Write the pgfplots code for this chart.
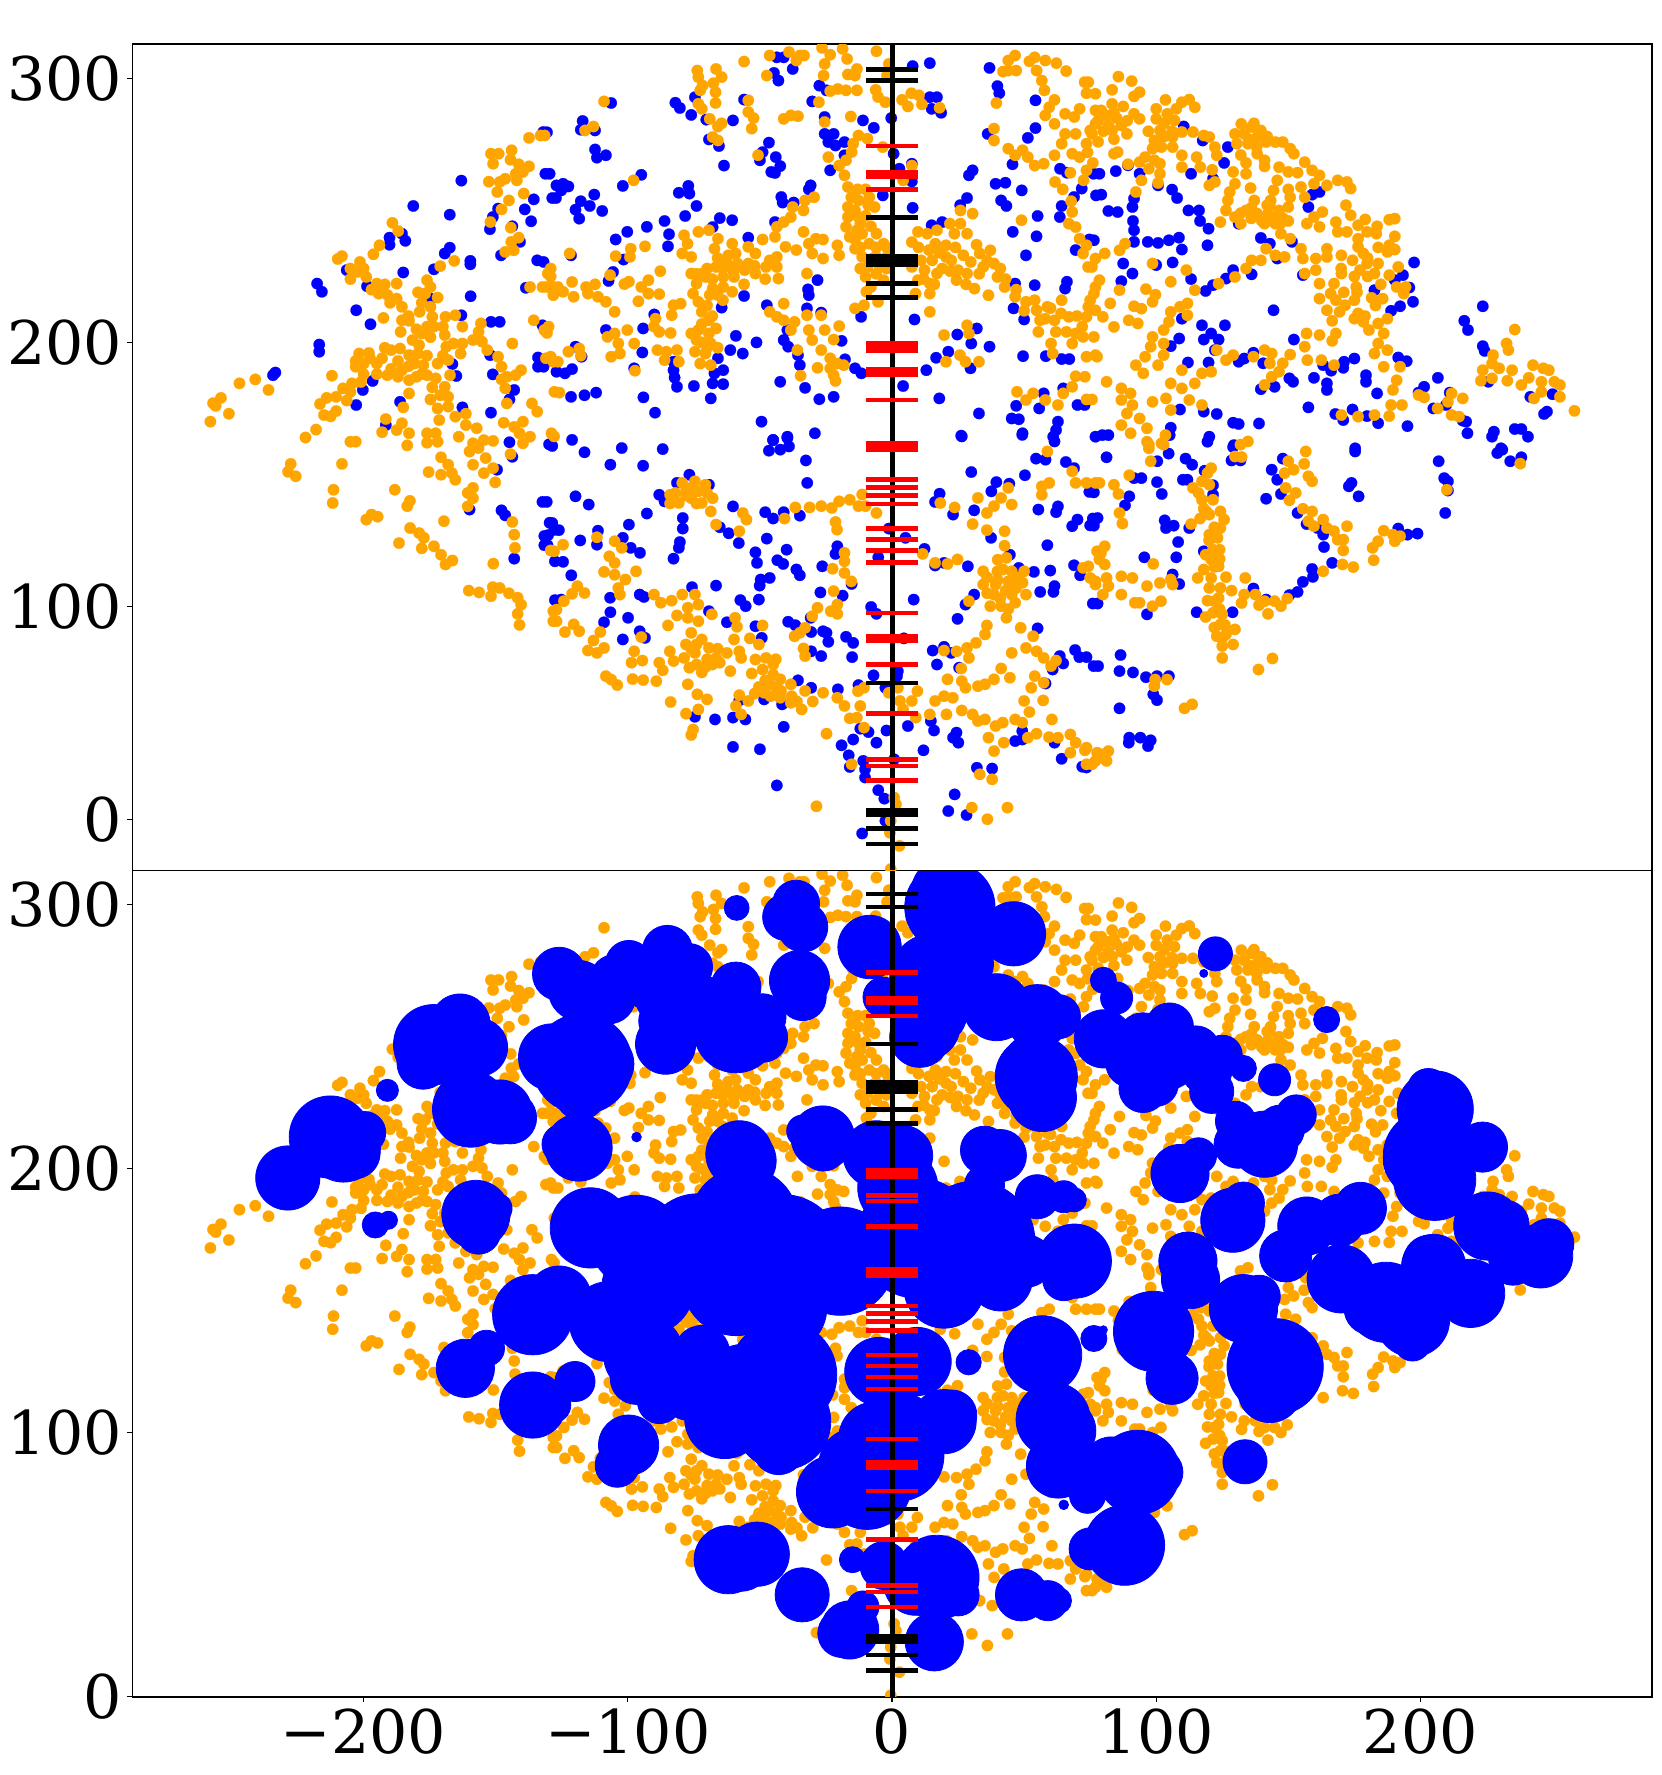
\documentclass[border=0pt]{standalone}
\usepackage{fontspec}
\setmainfont{DejaVu Serif}
\usepackage{pgfplots}
\usepackage{pgfplotstable}
\pgfplotsset{compat=1.18}
\definecolor{mplorange}{HTML}{FFA500}

% orange points, shared by both panels
\pgfplotstableread[row sep=\\]{
x y\\
-258 170\\ -257 177\\ -254 179\\ -256 176\\ -251 173\\ -247 184.5\\ -241 186\\ -236 182\\ -222 164\\ -218 167\\ -216.5 176.7\\ -214 179\\ -210.4 179.4\\ -215 172.5\\ -212.5 172\\ -210.4 174\\ -206.4 178\\ -207.8 182.6\\ -204.4 184.5\\ -205 181.3\\ -201 185\\ -212 187.4\\ -205 162.4\\ -203 162.4\\
-203 193\\ -201.7 195.8\\ -203 190.8\\ -200 192\\ -197.6 194\\ -195 192\\ -193 194\\ -189.6 190\\ -191 187.6\\ -187 187\\ -185.5 189.5\\ -182.8 185.7\\ -182.8 180.7\\ -189.6 197.1\\ -186.2 197.7\\ -182.8 195.2\\ -179.4 195.8\\ -180.8 192\\ -177.4 191.4\\ -176 187.6\\ -180 187\\ -172.7 186.4\\ -169.3 183.2\\ -168 179.4\\
-181.5 200.9\\ -178 203.4\\ -174.7 202\\ -173.4 206\\ -174 209.7\\ -174.7 213.5\\ -169.3 202.8\\ -168.7 198.4\\ -166 199.6\\ -162.6 199.6\\ -163.3 195.8\\ -168 193.3\\ -169 209.7\\ -165.3 210.3\\ -162.6 206\\ -185.5 213.5\\ -187.5 216.6\\ -185.5 208.4\\ -182.8 208.2\\ -178.8 211.6\\ -192.5 209.3\\
-194.3 218.5\\ -191 218\\ -195 222.3\\ -187.5 222.3\\ -199 224.8\\ -202.4 226.7\\ -205 228\\ -208.2 232.7\\ -209.8 231.6\\ -201.4 230.5\\ -179.4 219\\ -176.7 218.5\\ -176 223.6\\ -174.7 221\\ -194 236.8\\ -196.3 233.4\\ -189.1 245.3\\ -186.9 242.2\\ -165.7 230.9\\ -171 228.9\\
-191.6 171\\ -185.5 169.4\\ -182.8 165.6\\ -193 166\\ -187.5 166.8\\ -183.5 161\\ -174.7 178.4\\ -172 175\\ -171.4 170.6\\ -172.7 165.6\\ -176 165.6\\ -176 162\\ -172 162.4\\ -168 175.7\\ -165.3 171.9\\ -161.3 173\\ -161.3 168.7\\ -157.2 167.5\\ -164 164.3\\ -158.6 161.8\\ -154.5 163\\ -151 162.7\\ -185 175.4\\ -167.3 187.6\\
-155.6 207.2\\ -156.5 204\\ -158.6 200.9\\ -155.2 200.3\\ -153.2 197.1\\ -149.1 194.6\\ -147.8 190.8\\ -145.8 187\\ -147.8 186\\ -146.4 182.6\\ -142.5 187.6\\ -140.4 189.5\\ -143.7 199.6\\ -145.8 176.9\\ -136.3 176.9\\ -134.3 173.8\\ -147 169.6\\ -143 168\\ -139.7 170\\ -141 165.6\\ -137 164.3\\ -139.7 161.8\\ -128.9 165.6\\ -135.6 208.4\\ -131.6 204.7\\ -131 194\\ -128.2 192.7\\ -127.8 181.3\\ -130.3 226.1\\ -137 221\\ -132.3 221\\ -128.2 221\\ -128.2 217.9\\
-137.4 277.5\\ -133 278.4\\ -151.8 271.5\\ -148.9 271.5\\ -151 267.7\\ -144 272.8\\ -144.4 269.2\\ -141.3 267.5\\ -137.4 266.7\\ -142.4 263.9\\ -139.7 264.6\\ -142 261.4\\ -152.6 260.9\\ -148.5 260.8\\ -146.4 262\\ -149.4 257\\ -139.4 256.4\\ -145 253.8\\ -147.8 250.4\\ -152 245.6\\ -144.3 243.5\\ -141.3 239.7\\ -144.1 238.1\\ -143.2 234.9\\ -146.4 234.3\\
-227.6 154\\ -228.6 151\\ -225.7 149.3\\ -208.2 154\\ -211.4 144.2\\ -211.7 139.2\\ -188.2 144.2\\ -183.5 138\\ -182.5 140\\ -199 132.9\\ -197 134.8\\ -194.7 134\\ -169.6 132.3\\ -182.4 129.7\\ -179 127.8\\ -177.2 126\\ -186.6 124\\ -178 122\\ -173.4 122.8\\ -170.7 119.6\\ -166.4 117.4\\ -169 115.9\\ -150.9 116.2\\ -160.2 106\\ -156.3 105.3\\ -151.1 107.3\\ -148.5 107\\ -151.8 103.9\\ -145 105\\ -141.7 103.3\\ -140.4 100.7\\ -141.7 97.2\\ -141 93\\
-175.4 150.9\\ -170.7 149.9\\ -166.6 150.5\\ -165.3 148\\ -170.7 156.5\\ -168 153.7\\ -158.6 144.9\\ -160.6 143\\ -158.6 141\\ -160.6 137.9\\ -159.9 158.7\\ -156.5 160\\ -158.6 153.7\\ -153.8 156.2\\ -151 152.4\\ -154.5 150.5\\ -150.2 147\\ -143.7 132\\ -143 127.2\\ -142.7 122.2\\ -128.2 98.2\\ -128.2 94.4\\ -129.2 121.2\\ -144.4 157.7\\
-56 306.4\\ -46.3 308.7\\ -39 310\\ -34.9 308.7\\ -36.2 306.8\\ -33.3 308.7\\ -26.5 311.6\\ -23.4 309\\ -18.7 311.2\\ -17 307.4\\ -25.5 305.5\\ -25.9 301.1\\ -13.3 303.6\\ -14 301.1\\ -16.7 301.5\\ -5.9 310.3\\ -1.2 305.5\\ -1.9 301.1\\ -47.4 301.1\\ -73.7 303\\ -73.3 300.5\\ -66.6 303.6\\ -64.5 300.5\\ -71.7 297.3\\ -67.6 298.2\\ -72.6 295.5\\ -66.8 294.8\\
-109 291.3\\ -73.3 290.4\\ -72 288.5\\ -66.8 290.7\\ -69 284.7\\ -64.5 283\\ -65.9 281.8\\ -67.9 277.8\\ -65.9 276.5\\ -54.4 291.7\\ -54.4 287.3\\ -52.4 285\\ -53.1 281\\ -41 284.7\\ -38.3 286\\ -35.6 285.7\\ -27.7 291\\ -20.5 296\\ -23.4 295.2\\ -17.4 295.5\\ -13.3 295.5\\ -6.2 295.7\\ -5.3 293\\ -2.5 291\\ 3.8 291.9\\ 6 289.4\\ 7.3 294.4\\ 10.2 293.6\\ 11.3 290.2\\ 18 288.9\\
-15.6 285.6\\ -25.5 283.5\\ -12.7 278.4\\ -9.3 277.2\\ -14.7 275.3\\ -15.3 272.1\\ -3.5 274\\ -17.4 269\\ -20 267\\ -24.1 270.2\\ -18 263.3\\ 7.5 267\\ 4.2 261.4\\ -50.7 270.9\\ -97.8 261.4\\ -113 281.8\\ -116.2 280.3\\ -131.5 278.4\\
-16.7 258.9\\ -15.4 255\\ -12.7 253.8\\ -16.7 251.3\\ -8.6 255\\ -6.6 251.3\\ -16.7 247.5\\ -12.7 247.5\\ -17.4 243.8\\ -13.3 242.5\\ -16 240\\ -11.3 241.2\\ -5.9 241.2\\ -8.6 237.4\\ -3.2 237.4\\ -14 235.5\\ -11.3 232.4\\ -5.9 232.4\\ -1.9 232.4\\ -9.3 228.6\\ -4.6 228.6\\ -10 224.8\\ -3.2 223.6\\ -9.7 219.2\\ -5.3 215.4\\ -14 212.9\\ -10.6 214.1\\
9.8 241.9\\ 13.3 241.2\\ 17 242.5\\ 16.4 237.4\\ 20.4 236.8\\ 7.5 238\\ 11 231.1\\ 15.2 231.1\\ 20.4 232.4\\ 12.3 227.4\\ 17 226.1\\ 9.8 223.6\\ 14.3 222.3\\ 7.5 228.6\\ 22.4 231.1\\ 25 227.4\\ 24.4 223.6\\ 29.8 230.5\\ 28.4 226.1\\ 33.2 233.7\\ 37.2 234.9\\ 34.5 228.6\\ 38.6 229.9\\ 31.2 220.4\\ 36.5 217.9\\ 8.9 218.5\\ 14.3 218.5\\ 14.3 211.6\\
21.9 245\\ 25.9 250\\ 30.5 248.8\\ 25.9 245\\ 28.4 241.2\\ 23.6 241.2\\ 39.9 224.8\\ 42.6 221\\ 46.6 217.3\\ 50.7 215.4\\ 54.7 212.2\\ 58.8 213.5\\ 56 208.4\\ 61.5 208.4\\ 55.4 204\\ 60.2 199.6\\ 60.8 195.8\\ 64.2 216\\ 66.9 209.7\\ 69.5 203.4\\ 68.2 199.6\\ 72.3 202.1\\ 73.6 209.7\\ 75 216\\ 77 221\\ 73.6 194.6\\ 77.6 194.6\\ 74.2 228.6\\
-78.7 240.6\\ -79.4 233.7\\ -76 232.4\\ -77.4 237.4\\ -73.3 241.9\\ -69.3 242.5\\ -65.9 239.3\\ -60.5 237.4\\ -67.2 235.5\\ -54.4 236.2\\ -59.2 233.7\\ -49 239\\ -51.7 233.7\\ -46.3 231.1\\ -76 226.1\\ -74 222.3\\ -70.6 224.8\\ -66.6 228.6\\ -62.5 229.9\\ -58.5 229.9\\ -54.4 229.9\\ -63.9 224.8\\ -59.8 224.8\\ -55.8 227.4\\ -51.7 226.1\\ -47.7 228.6\\ -43.6 228.6\\ -43 224.2\\ -67.9 220.4\\ -63.9 221\\ -60.5 219.2\\ -75.3 218.5\\ -73.3 215.4\\ -72 211.6\\ -69.3 208.4\\ -66.6 205.3\\ -69.3 203.4\\ -73.3 204.7\\ -68.6 199.6\\ -74.6 196.5\\ -70.6 195.8\\ -72.6 192\\ -68.6 191.4\\ -76 203.4\\ -74 200.9\\
-43.6 243.8\\ -44.3 240\\ -41 245.6\\ -38.3 247.5\\ -37.6 251.3\\ -32.9 253.8\\ -29.5 255\\ -33.5 250\\ -40.3 236.2\\ -36.2 235\\ -43.6 232.4\\ -33.5 241.9\\ -31.5 237.4\\ -26.1 239\\ -28.8 239.3\\ -30.2 233.7\\ -26.1 231.8\\ -32.2 226.1\\ -20.7 236.8\\ -20 233\\
-87.7 227\\ -93.5 236.4\\ -98.9 235.5\\ -99.2 232.4\\ -104.6 232.7\\ -122 233.7\\ -129.2 228\\ -129.2 225\\ -106.7 225.5\\ -101.3 222.1\\ -99.6 223\\ -92.2 223.6\\ -94.9 221\\ -92.2 218.5\\ -88.1 218.3\\ -96 215.6\\ -126.5 221\\ -130.6 221\\ -124.5 219.2\\ -121.1 222.9\\ -120.5 217.3\\ -115.8 221\\ -112.4 222\\ -115.1 218.5\\ -111.3 217.3\\ -108.3 215.4\\ -105 211.6\\ -80 214.7\\ -82.7 214.1\\ -83.4 210.3\\ -89.5 209\\ -90.1 206\\ -88.1 204\\ -83.8 203.6\\
-105 203.4\\ -107.7 202.1\\ -103.6 199.6\\ -100.2 204.7\\ -97.6 199.6\\ -106.3 194.6\\ -103 195.8\\ -130 206\\ -130.6 203.6\\ -129.2 194.6\\ -126.5 192.7\\ -122.5 196.5\\ -118.4 197.7\\ -117.8 195\\ -88.8 197.1\\ -85.4 196.5\\ -81.4 197.1\\ -86.1 193.3\\ -80.7 192.7\\ -97.3 189.3\\
-46.3 211.6\\ -41 214.7\\ -43.6 209.7\\ -41 208.4\\ -36.9 207.8\\ -38.3 204.7\\ -32.2 210.3\\ -31.5 204.7\\ -30.2 200.9\\ -26.8 197.1\\ -23.4 194\\ -20.7 192\\ -18.3 191.4\\ -23.4 190.2\\ -28.2 190.4\\ -22.1 187.6\\ -21.4 185.4\\ -34.6 187.4\\ -35.8 197.1\\ -26.8 210.3\\ -25.5 204.7\\ -20 206.2\\ -22.1 201.1\\
19.7 202.8\\ 28.4 206.5\\ 29.1 203.4\\ 20.4 192.7\\ 25.7 195.2\\ 27.8 192.7\\ 32.9 192.7\\ 38.6 281\\ 38.6 276.5\\ 39.5 290.7\\ 44 303\\ 42 302.6\\ 47 303\\ 44 306.8\\ 46.6 308.7\\ 52 306.5\\ 54 308\\ 58 306.8\\ 62.2 305.8\\ 65.9 302.8\\ 54.7 303\\ 56.7 299.2\\ 57.7 295.5\\ 72.9 298.6\\ 73.6 294.4\\
61.5 291.9\\ 59.5 289.1\\ 58 286\\ 61.5 282.8\\ 65.5 286.6\\ 71 288.5\\ 77 287.9\\ 69 285.4\\ 65.5 279\\ 69.5 279\\ 75 280.3\\ 64.2 275.3\\ 73.6 275.3\\ 71 270.2\\ 61.5 270.9\\ 68.2 271.5\\ 73.6 265.2\\ 57.4 267.7\\ 54 267\\ 49.4 272.8\\ 44 273.4\\ 46.6 270.9\\ 51.4 270.2\\ 67.5 264.3\\ 72.5 261.4\\ 61.7 260.8\\ 64.6 258\\ 67.8 253.5\\ 68.2 249.4\\ 66.9 245\\ 69.5 243.7\\ 49 246.3\\ 71 239.3\\ 73.6 236.8\\ 72.3 233.7\\ 77 231.8\\
47.3 181.3\\ 50.7 178.2\\ 53.4 180.7\\ 58 178.2\\ 62.8 176.3\\ 64.8 180.7\\ 68.2 183.2\\ 69.5 187.2\\ 73.6 178.4\\ -125.9 181\\
-127.9 164.4\\ -84 142.3\\ -79.4 146.8\\ -74.6 147.4\\ -70.6 146.1\\ -80.7 139.2\\ -76 141\\ -72 139.2\\ -67.9 141\\ -68.6 136\\ -66.6 131\\ -84 139\\ -78 143.6\\ -73.3 143.6\\ -56.5 135.4\\ -55.1 132.9\\ -57.8 128.5\\
-36.6 137.5\\ -31.2 137.5\\ -26.8 138\\ -22.8 137.3\\ -20 139.8\\ -16 140.4\\ -11.3 142.4\\ -12.7 138\\ -10 138\\ -5.9 135.4\\ -40.7 133.3\\ -21.4 132\\ -20.8 129.1\\ -18 120.3\\ -18 117.1\\ -22.5 114.3\\ -18 112.7\\ -15.4 109.5\\ -111.7 126.2\\ -105 124.7\\ -102.3 122.2\\ -124.5 123.4\\ -127.9 120.9\\
-107 119\\ -105 116.5\\ -109 113.1\\ -105 112\\ -96.9 113.3\\ -100.9 110.2\\ -103.6 107\\ -103 104.5\\ -119.1 107.7\\ -121.1 104.8\\ -116.4 105.1\\ -124.2 102\\ -127 98.8\\ -127 94.4\\ -123.8 90.3\\ -120.5 93.2\\ -118.4 90.6\\
-90.1 104.5\\ -87.5 101.4\\ -83.4 102.2\\ -79.4 104.5\\ -74.6 104.5\\ -77.3 99.5\\ -73.3 100.7\\ -81.4 96.6\\ -77.3 95.7\\ -73.3 94.4\\ -68.2 97\\ -59.4 95.7\\ -58.7 92.3\\ -84.8 92.8\\ -49 92.8\\ -76 90\\ -74 85.6\\ -78 85.6\\ -72 87.5\\ -84.1 83\\ -74.6 82.4\\ -69.3 84.3\\ -78.7 80.5\\ -82.7 79.3\\ -88.1 78.7\\ -86.8 75.8\\ -76.7 76.8\\ -70.6 77\\ -66.6 80.5\\ -62.5 82.4\\ -65.2 78.7\\ -61.2 75.5\\
-110.4 90.3\\ -113 87.1\\ -109 84.3\\ -115.1 83.3\\ -111.7 82.4\\ -94.9 88.4\\ -97.6 83\\ -94.5 79.5\\ -98.6 78.7\\ -108.3 73.6\\ -106.3 72.3\\ -104 70.2\\ -98.2 72.5\\ -94.2 72.1\\ -89.2 71.7\\ -59.8 87.5\\ -57.8 83\\ -57.1 80.5\\ -53.8 87.9\\ -50.4 85.6\\ -51.7 79.9\\ -53.1 74.6\\
-47.7 80.5\\ -45 78\\ -49 76.1\\ -45 74.2\\ -46.3 70.5\\ -50.4 69.5\\ -43.6 69.2\\ -42.3 72.4\\ -48.4 67.3\\ -42.3 65.4\\ -38.3 70.5\\ -32.9 68\\ -38.3 63.5\\ -34.2 61\\ -26.1 67.3\\ -20.7 65.4\\ -18 62.3\\
-77.3 70.5\\ -73.7 66.7\\ -83.8 63.8\\ -70 64.8\\ -73.3 61\\ -78 59.4\\ -75.3 53.4\\ -76 51.3\\ -57.8 66.4\\ -54.4 64.2\\ -59.1 62.3\\ -57.1 59.1\\ -24.8 51.8\\ -12.9 67.9\\ -10.6 69.2\\ -12 62.3\\ -13.3 57.9\\ -16 57.6\\ -10.6 54.1\\ -15.3 40.2\\
-1.2 67.3\\ 2.2 69.2\\ 9.6 67.9\\ 3 64.2\\ 7.5 64.2\\ 4.2 61\\ 9 57.9\\ 14.3 59.1\\ 16.3 64.2\\ 19.7 66\\ 21 72.4\\ 23 65.4\\ 20.6 59.1\\ 26.4 60.6\\ 30.5 59.1\\ 35.2 57.2\\ 32.5 56.6\\ 26.4 71.7\\ 27.8 69.2\\ 26.2 76.5\\ 19.7 83.3\\ 24.4 83\\ 28.4 84.3\\ 29.1 80.5\\ 31.8 86.2\\ 35.2 89.4\\ 35.9 92.8\\
43.3 95.7\\ 48.7 91.9\\ 53.4 88.7\\ 50.7 84.3\\ 54.7 83\\ 57.4 80.5\\ 60.2 77.4\\ 62.1 79.5\\ 45.3 82.4\\ 41.3 76.5\\ 44.6 73\\ 38.6 72.4\\ 35.2 70.5\\ 32.5 69.8\\ 54 73.6\\ 52.7 69.2\\ 57.4 71.1\\ 50 64.2\\ 57.2 64.4\\ 52 60\\ 60.5 57.2\\ 46.6 57.2\\ 49.3 56\\ 41.9 56\\ 39.2 54.7\\ 36.5 50.3\\ 42.3 48.4\\ 38.6 45.2\\ 51.4 50.3\\ 54.7 51.8\\ 59.4 50.5\\ 62.8 50.3\\ 67.5 51.5\\ 69.5 48.4\\ 73 45.5\\ 67.5 44.6\\ 77.6 44.6\\ 73.6 40.2\\ 77 41.5\\
33.2 36.4\\ 37.9 34.5\\ 30.2 23.8\\ 36.1 19.4\\ 43.7 23.8\\ -28.6 24.3\\ 0.8 27.6\\ 1.5 25\\ -0.5 18.8\\ -0.8 14.3\\ 2.8 9.3\\ -0.5 0.5\\ 29.1 102\\ 32.5 141.1\\ 35.9 135.4\\ 30.5 131.2\\ 35.9 128.9\\ 42.6 128.5\\ 42.6 123\\ 38.6 138\\ 41.3 141.1\\ 44 144.9\\ 45.3 138.6\\ 18.3 139.2\\ 23.7 137.5\\ 59.5 146.8\\ 56.7 145.5\\ 56.7 142.3\\ 69.5 146.8\\ 77 146.8\\ 68.2 151.2\\ 58.8 158.7\\
11.6 119.9\\ 16.3 116.5\\ 21 116.1\\ 24.8 117.8\\ 34.5 113.3\\ 39.9 113.3\\ 45.3 113.3\\ 50 113.3\\ 34.5 108.3\\ 39.2 108.3\\ 44 109.5\\ 49.4 109\\ 50.7 104.5\\ 45.3 104.5\\ 38.6 104.5\\ 37.2 100.1\\ 41.3 100.1\\ 46.6 101.4\\ 40 117.7\\ 43.3 118.4\\ -22.1 105.8\\ -20.7 100.7\\ -23.2 98.2\\ -20.7 97.2\\ -28.2 99.5\\ -30.2 96.3\\ -32.9 91.9\\ -34.9 90\\ -36.9 88.7\\ -33.5 84.1\\ -32.9 81.2\\ 72.3 114.6\\ 75 110.8\\ 77.6 120.9\\ 77 108.3\\
85.7 300.7\\ 90.7 299\\ 74.3 298.6\\ 77 294.2\\ 83.3 295.7\\ 93.7 294.8\\ 91.6 293.2\\ 79.2 287.9\\ 83.3 290.4\\ 87.5 289.4\\ 81.2 286\\ 91.6 286.6\\ 93.7 284.7\\ 77 282.8\\ 81.9 282.2\\ 86.8 282.2\\ 75.7 279\\ 83.3 280.3\\ 88.9 279\\
103.5 291.9\\ 100 288.5\\ 109.7 291\\ 112.5 292\\ 114.6 289.1\\ 107.6 288.5\\ 104.2 286.6\\ 100 284.7\\ 106.9 284.1\\ 101.4 280.3\\ 106.2 277.8\\ 109.7 279.7\\ 113.9 279.7\\ 118 278.4\\ 120.1 277.8\\ 99.3 276.5\\ 102 274\\ 98.6 273.4\\ 106.2 274\\ 95.8 270.2\\ 99.3 269\\ 93.7 268.3\\ 97.2 265.8\\ 101.4 267.7\\ 85.4 272.1\\ 84 271.5\\ 89.3 267.5\\
109.7 270.9\\ 109.7 266.4\\ 115.3 270.2\\ 116.7 266.4\\ 101.4 263.9\\ 100.7 260.4\\ 94.4 261.4\\ 92.3 257\\ 122.2 274\\ 122.9 270.9\\ 121.2 265.4\\ 120.1 259.5\\ 122.2 260.8\\
132.2 282.8\\ 136.1 281.6\\ 139.6 280.3\\ 129.8 279\\ 133.3 279\\ 138.2 277.8\\ 130.5 275.3\\ 134.7 275.3\\ 141.6 275.9\\ 145.1 275.9\\ 147.9 275.9\\ 150.7 273.4\\ 152.1 271.5\\ 138.2 271.5\\ 134 268\\ 141 269\\ 141 266.7\\ 146.5 266.4\\ 150 264.6\\ 153.5 264.3\\ 156.2 268.3\\ 159 265.2\\ 129.1 264.6\\ 134 263.9\\ 145.8 261.4\\ 144.4 257.6\\ 143.3 253.8\\ 135.7 258.5\\ 137.1 253.8\\
129.8 260.1\\ 127.8 257\\ 127.1 253.8\\ 126.4 250\\ 124.3 245.6\\ 129.8 247.5\\ 134 250\\ 138.2 248.8\\ 142.3 248.8\\ 141 245\\ 146.5 250\\ 145.1 245\\ 150 251.3\\ 150.7 255\\ 154.8 258.9\\ 156.2 255\\ 147.2 241.2\\ 150.7 239.3\\ 161.8 263.3\\ 159.7 260.1\\ 164.6 259.5\\ 168.7 261.4\\ 172.2 260.8\\ 173.6 258.3\\ 171.8 252\\ 162.9 249.4\\ 159.7 247.5\\ 157 245\\ 161.8 243.8\\
173.6 248.2\\ 179.1 246.6\\ 168 245.6\\ 168.7 241.9\\ 172.2 241.9\\ 176.4 244.4\\ 188.2 246.5\\ 190.3 246.9\\ 183.6 244\\ 190.3 240.2\\ 188.2 236.8\\ 190.3 235.2\\ 187.5 234.3\\ 179.8 241.9\\ 176.4 239.3\\ 183.3 241.2\\ 176.4 236.2\\ 178.4 233.7\\
154.8 235.5\\ 155.5 231.8\\ 160.4 231.8\\ 164.6 235.5\\ 164.6 232.4\\ 156.2 226.1\\ 160.4 227.4\\ 161.8 222.3\\ 170.1 233\\ 174.3 231.1\\ 179.8 229.9\\ 184 229.9\\ 177.1 227.4\\ 182.6 226.1\\ 188.2 225.5\\ 191.6 228.6\\ 167.3 222.3\\ 170.1 226.1\\ 166 218.5\\ 161.8 216.6\\ 164.6 212.2\\ 169.4 211.6\\ 166.6 208.2\\ 171.5 214.1\\ 175.7 221\\ 175 216\\ 176.4 211\\ 178.4 207.8\\ 180.5 204.7\\ 184 207.2\\ 187.5 209\\ 181.5 216.9\\ 185.7 216.6\\ 191 221\\ 194.4 221\\ 193.7 218.5\\ 186.1 203.4\\ 184 199.6\\ 182.6 195.8\\ 187.5 197.1\\
156.9 203.4\\ 156.2 198.4\\ 161.8 202.8\\ 168 203.4\\ 166.6 200.6\\ 122.9 197.1\\ 126.4 193.3\\ 129.1 195.2\\ 136.8 194.6\\ 141 197.1\\ 143.7 195.8\\ 143 192.1\\ 150.7 195.4\\ 147.9 192.1\\ 146.5 188.9\\ 143.7 187\\ 141 183.9\\ 157.2 193.3\\ 162.5 193.3\\ 167.3 191.4\\ 186.1 190.8\\ 192.3 190.8\\ 191 185.7\\ 189.6 182\\ 188.9 176.3\\ 193 176.3\\ 182.6 172.5\\ 188.2 172.1\\ 170.1 172.5\\ 176.4 171.9\\ 199.3 180.1\\ 201.4 179.2\\ 211.8 180.7\\ 210.4 177.5\\ 216 178.8\\ 206.5 175\\ 211.8 172.5\\ 214.6 171.9\\
235.7 204.9\\ 232.6 199.6\\ 233.3 197.1\\ 227.5 195.2\\ 227.1 192\\ 223.6 189.5\\ 229.8 190.2\\ 227.1 186.4\\ 222.9 185.5\\ 234.7 189.5\\ 232.9 185.5\\ 242.6 191.4\\ 246.5 190.2\\ 248.6 189.5\\ 241 186.6\\ 238.2 183.9\\ 245.8 185.1\\ 250.7 185.1\\ 252.8 183.9\\ 245.8 181.3\\ 243 178.8\\ 252.8 179.4\\ 258.3 174.1\\
77 195.2\\ 73 187\\ 92.3 191.4\\ 95.8 194.6\\ 100.7 191.4\\ 95.1 188.3\\ 98.6 202.1\\ 97.9 198.4\\ 102.8 199.6\\ 102.8 195.2\\ 109.7 189.5\\ 105.5 184.5\\ 109.7 182.6\\ 114.6 184.5\\ 117.3 188.3\\ 120.8 188.9\\ 112.5 178.2\\ 117.3 176.3\\ 81.2 185.1\\ 86.8 182.6\\ 90.3 180.7\\ 86.8 178.2\\ 91 176.3\\ 88.9 173.1\\ 93.7 171.2\\ 86.8 168.7\\ 90.3 165.6\\ 96.5 167.5\\ 96.5 162.4\\ 97.2 159.9\\ 98.6 177.5\\ 103.7 178.8\\ 105.5 174.4\\ 103.5 164.9\\ 102 161.8\\ 75.7 178.4\\
80.5 233.7\\ 86.1 234.9\\ 88.2 237.4\\ 75.7 228.6\\ 78.5 223.6\\ 76.4 218.5\\ 77 212.2\\ 79.8 209.7\\ 84 205.9\\ 76.4 202.1\\ 74.3 213.5\\ 86.1 219.8\\ 82.6 214.8\\ 96.1 220.2\\ 99.7 218.1\\ 98.6 215.4\\ 91.6 213.7\\ 94.4 212.8\\ 89.6 208.4\\ 93 207.2\\ 105.5 223\\ 98.6 229.9\\ 111.4 227.4\\ 114.6 219.8\\ 111.8 214.8\\ 109 213.5\\ 105.5 211.6\\ 111.8 210.3\\ 104.8 207.8\\ 102.8 204.7\\ 123.6 222.3\\ 129.8 224.8\\ 134 228\\ 139.6 231.1\\ 136.1 231.1\\ 141.6 235.5\\ 145.1 233\\ 148.6 232.4\\
156.6 158.7\\ 102.8 161.3\\ 97.2 161.3\\ 97.9 155\\ 89.8 149.7\\ 131.9 161.3\\ 134.7 162.5\\ 129.8 156.8\\ 132.3 156.6\\ 120.8 152.4\\ 119.4 150.5\\ 117.3 147.4\\ 120.1 146.1\\ 113.9 144.9\\ 117.3 140.4\\ 121.5 140.4\\ 124.3 136\\ 125.7 132.9\\ 120.1 134.8\\ 113.2 131.2\\ 116.6 133.3\\ 124.3 129.7\\ 120.1 127.2\\ 123.2 126\\ 121.5 121.5\\ 124 121.5\\ 118.7 119.6\\ 120.8 117.8\\ 123.6 115.2\\ 118 114\\
115.7 110.8\\ 120.8 110.8\\ 126.4 111.1\\ 133.7 110.8\\ 120.1 107\\ 124.3 107\\ 128.5 106\\ 119.4 102.2\\ 123.6 103.2\\ 118.7 96\\ 121.5 97.6\\ 125 97\\ 124.3 93.2\\ 129.8 91.3\\ 122.9 88.7\\ 126.4 89.4\\ 125 85\\ 129.1 85.6\\ 125 80.5\\ 144 80.3\\ 138.7 76.1\\ 133.3 104.5\\ 132.3 101.3\\ 137.5 104.5\\ 138.9 100.5\\ 141 102\\ 142.3 97.2\\ 144.8 102\\ 147.2 100.1\\ 149.6 103\\
150 155\\ 148.6 150.5\\ 152 151.8\\ 156 154\\ 157.6 149.3\\ 159 147.4\\ 149 144.9\\ 152.8 143\\ 150.4 140.2\\ 155.5 137\\ 159 136\\ 157.6 132.3\\ 163.2 132.9\\ 159.7 130.4\\ 164.6 129.7\\ 167.3 128.5\\ 172.2 130.4\\ 168.7 125.3\\ 170.8 125.3\\ 170.8 121.2\\ 170.5 115.9\\ 174.6 114.9\\ 163.2 113.3\\ 186.1 128.7\\ 184 124.7\\ 181.9 122.2\\ 182.3 117.5\\ 189.6 127.2\\ 192.3 126.6\\ 190.3 124.7\\ 210 144.2\\ 237.8 154.1\\
78.5 146.8\\ 73.6 146.8\\ 84 146.1\\ 85.7 142.6\\ 86.1 135.4\\ 87.2 131.4\\ 80.5 122.8\\ 79.1 120.3\\ 78.5 117.8\\ 74.3 115.2\\ 80.5 115.9\\ 77 109.5\\ 81.2 110.8\\ 86.8 111.4\\ 91 110.8\\ 81.9 107.7\\ 86.8 104.5\\ 79.8 104.5\\ 96.5 107.7\\ 101.4 108.9\\ 105.5 110.2\\ 106.2 108.3\\ 91.9 101.4\\ 93.7 101.4\\ 98.6 100.1\\ 101.8 102\\ 98.9 116.1\\ 99.6 72.3\\ 104.1 72.3\\ 99.3 69.8\\ 110.7 61.4\\ 113.6 62.9\\ 81.9 45.2\\ 79.2 44\\ 81.2 41.5\\ 75.7 40.2\\ 73.6 46.5\\
-72 226\\ -68 224\\ -66 218\\ -70 214\\ -68 210\\ -72 207\\ -70 198\\ -72 200\\ -66 198\\ -64 228\\ -60 227\\ -56 222\\ -52 229\\ -48 224\\ -62 233\\ -66 232\\ -70 228\\ -74 226\\ -64 216\\ -69 218\\
-12 245\\ -14 250\\ -10 248\\ -8 244\\ -12 236\\ -7 232\\ -12 228\\ -6 226\\ -8 221\\ -2 228\\ -2 236\\ -6 236\\ -14 239\\ -10 258\\ -13 258\\ -9 252\\
10 236\\ 14 235\\ 18 234\\ 12 224\\ 16 222\\ 19 228\\ 24 236\\ 27 233\\ 22 227\\ 28 222\\ 33 226\\ 36 231\\ 32 237\\ 41 228\\ 43 224\\ 47 220\\ 50 212\\ 54 216\\ 58 209\\ 62 204\\ 64 211\\ 70 210\\ 72 206\\ 66 204\\ 60 213\\
-200 188\\ -195 188\\ -198 196\\ -192 198\\ -187 193\\ -183 191\\ -178 188\\ -174 183\\ -171 180\\ -179 199\\ -176 195\\ -172 192\\ -170 195\\ -176 206\\ -170 206\\ -178 215\\ -172 217\\ -186 204\\ -205 224\\ -200 228\\ -197 220\\ -192 222\\
132 249\\ 136 247\\ 140 246\\ 144 247\\ 148 247\\ 132 245\\ 136 251\\ 142 252\\ 147 245\\ 135 277\\ 138 274\\ 142 278\\ 132 271\\ 137 283\\ 100 275\\ 103 278\\ 97 280\\ 103 283\\ 106 280\\ 85 285\\ 89 284\\ 78 284\\ 84 287\\ 80 280\\ 84 277\\ 78 276\\ 74 272\\ 76 268\\
40 110\\ 43 106\\ 47 107\\ 36 111\\ 42 114\\ 47 111\\ 36 105\\ 41 103\\ 44 99\\ -70 80\\ -66 84\\ -74 78\\ -76 84\\ -72 75\\ -68 78\\ -44 80\\ -48 72\\ -42 68\\ -46 66\\ -38 66\\ -36 64\\ -52 67\\ -30 64\\
170 228\\ 175 225\\ 180 225\\ 185 222\\ 176 219\\ 180 232\\ 184 236\\ 168 216\\ 171 219\\ 175 209\\ 179 210\\ 183 214\\ -183 210\\ -180 205\\ -190 215\\ -78 142\\ -74 139\\ -70 143\\ -76 145\\ -82 143\\
122 102\\ 124 99\\ 126 93\\ 122 92\\ 125 88\\ 122 115\\ 124 118\\ 120 125\\ 122 130\\ 119 136\\ 116 143\\ 118 137\\ 150 258\\ 150 246\\ 143 252\\
}\orangepts

% large blue bubbles of the lower panel, r is the radius in pt
\pgfplotstableread[row sep=\\]{
x y r\\
-228.7 196.5 16\\ -212.6 212 20.5\\ -207.6 209 18.5\\ -203.6 206 13\\ -199.6 213.7 10.5\\ -195.6 178.7 6.5\\ -190.6 180.5 4.5\\ -191 229.7 5.5\\ -173.5 247 20\\ -163.5 254.8 15\\ -156.5 246 14.5\\ -177.5 240 13\\ -159.5 222.6 19\\ -148.4 221.5 16\\ -144.4 219.3 13\\ -157.5 182.7 17\\ -156.5 176 11\\ -149.5 185 7.5\\
-126 273.8 13.3\\ -118.6 267.5 15\\ -107.2 265 13.3\\ -105 272 12\\ -92 270 13\\ -99.6 277.6 11.7\\ -85 282.7 12.5\\ -76.8 276.4 11.7\\ -85.7 265 15\\ -85.7 247.2 15\\ -87 256 11.7\\ -59.1 268.8 12.5\\ -59.1 252.3 21\\ -49 257.4 11.7\\ -69.2 262.4 13.3\\ -74 256 11.7\\ -49 249.8 12.5\\ -36.3 300.4 11.7\\ -40.1 295.3 11.7\\ -33.8 291.6 12.5\\ -35 271.3 15\\ -33.8 265 11.7\\ -58.8 298.8 6.2\\
-128.7 242.2 16.7\\ -117.3 239.7 25\\ -109.7 239.7 15.8\\ -118 228 12.5\\ -8.5 284 15.8\\ -3.4 265 10\\ 21.9 299.1 22.5\\ 20 305 16.7\\ 15.6 272.6 21.7\\ 16.9 258.6 15\\ 10.5 249.8 15\\ 13 254 16.7\\ 27 277.6 15\\ 39.6 261.2 16.7\\ 29 298 13\\ 46 289 16\\ 47 292 9\\
-26.2 211.8 15.8\\ -33.8 214.3 8\\ -26 208 11.7\\ -118.6 208 16.7\\ -124.9 209.3 10\\ -57.8 205.5 16.7\\ -5.9 205.5 16.7\\ 4 205 15\\ -96.7 212 2.4\\
-114.2 177.6 20\\ -96.8 172.5 23\\ -73.5 170 27\\ -56 180 27\\ -56 203 16\\ -41.4 167.4 30\\ -19.6 165 27\\ 2.2 192.8 20\\ -0.7 201.6 18\\ 9.5 173.8 30\\ 31.3 172.5 30\\ 19.7 154.8 20\\ -41.4 147.2 22\\ -59 157.3 27\\ -92.4 154.8 23\\ -107 142.1 20\\ -136 144.7 20\\ -126 151 16\\ -94 129.5 20\\ -96.8 120.6 13\\ -88 120 16\\ -78 125 14\\ -72 130 14\\ -76.4 116.8 16\\ -63.3 105.4 20\\ -41.4 121.9 27\\ -41.4 104.2 24\\ -42.9 94 13\\ -56 116.8 22\\ -88 111.8 11\\ -120 119.4 10\\ -161.5 124.4 14.5\\ -153.5 132 9\\ -136 110.5 16.5\\ -128.4 110.6 9\\ -5 123.2 17\\ 9.5 127 17\\ 29 126.7 6.3\\
-6.5 98 18\\ 2.2 100.4 20\\ 19.7 104.2 16\\ 22.6 106.7 12.5\\ 2.2 91.5 23\\ -14 88 18\\ -22.5 77.6 18\\ -9.4 80.1 22\\ -99.7 95.3 15\\ -104 87.7 11\\ -62 51.9 17\\ -57 51 14.5\\ -51 54 16\\ -34 38.6 13.5\\ -19 24 12\\
17 45.2 21\\ 25 38.6 10.5\\ -3 49.7 12\\ -15 51.9 6.5\\ -11 34 8\\ 9 43 16\\ 16 20.8 14.5\\ 19 18.6 9\\ -16 25.3 14.5\\
54.6 234.8 20.5\\ 56.9 227 17\\ 51 242 10.5\\ 55 257.6 16\\ 63 257.6 11\\ 80 271.4 6.5\\ 85 264.7 8\\ 80 249.2 14.5\\ 95 249.2 13\\ 105 253.7 12\\ 109 245 10.5\\ 119 238 13\\ 121 229.3 11\\ 95 230.4 12\\ 133 238 6.5\\ 122.4 281.4 8.5\\ 118 274 2\\ 164.5 256.5 6.5\\ 105 240 13\\ 90 240 12\\ 115 245 12\\ 100 232 11\\ 125 243 10\\
144.8 233.7 8\\ 153 220.4 10\\ 141 209.3 16.5\\ 131 209.3 12\\ 130 218 10\\ 147 215 12\\ 205.6 222.6 19\\ 211.6 225 10.5\\ 203 230 10.5\\ 203.4 204.9 23\\ 205.4 196 20.5\\ 223.5 208.2 12.5\\ 197 203 14.5\\ 109 198.2 14.5\\ 116 204.9 9\\ 35 207 12\\ 41 205 13\\ 35 193.8 10\\ 55 189.4 11\\ 65 189.4 8\\ 69 188.2 6\\ 129 180.5 16\\ 133 187 10.5\\ 157 178.3 14.5\\ 177.3 185 13\\ 169.3 180.5 13\\ 149 167 13\\
225.5 178.3 17\\ 232 179 12\\ 245.5 167 16\\ 248.6 171.6 12.5\\ 235 165 12\\ 170 158.3 17\\ 187 149.4 20\\ 197 142.8 18.5\\ 203.4 165 13\\ 205 163 16\\ 219 152.8 17\\ 197 134 9\\ 181 147 13\\ 112 165 14.5\\ 113 158 14.5\\ 115 156 8\\ 113 169 8\\ 99 138.4 20\\ 97 141 16\\ 106 120.6 13\\ 105 138.4 12\\ 133 147 17\\ 139 151.7 10.5\\ 145 125 24\\ 143 116 16\\ 155 127 10.5\\ 76.4 135.7 6.5\\ 80 139 2\\ 133.6 89 11\\
57 129.5 19.5\\ 61 105 18.5\\ 65 100.7 16\\ 63 87.4 16\\ 93 85 21\\ 83 87.4 14.5\\ 101 85 12\\ 74 76.3 9\\ 65 72.7 2.4\\ 88 57.4 20\\ 75 56 10.5\\ 49 38.6 13\\ 59 36.4 10\\ 63 36.4 6.5\\ 41 169.4 18.5\\ 51 165 13\\ 41 158.3 16\\ 69 165 18.5\\ 65 158 10.5\\
}\bubbles

\begin{document}
\begin{tikzpicture}
\pgfplotsset{panel/.style={
  scale only axis, width=757pt, height=411.75pt,
  xmin=-287.5, xmax=287.5, ymin=0, ymax=313,
  axis line style={line width=0.9pt}, tick style={line width=0.6pt, black},
  major tick length=2.7pt, tick align=outside, xtick pos=bottom, ytick pos=left,
  tick label style={font=\fontsize{30}{34}\selectfont},
  yticklabel style={xshift=1pt},
  clip marker paths=true,
  scatter/use mapped color={draw=blue, fill=blue},
}}
\pgfplotsset{
  dots/.style={only marks, mark=*, mark size=2.85pt, mark options={draw=#1, fill=#1, line width=0.1pt}},
  rule/.style={only marks, mark=-, mark size=13.15pt, mark options={draw=#1, line width=2.2pt}, forget plot},
}
\path[use as bounding box] (-66pt,-39pt) rectangle (762pt,845.5pt);

% lower panel
\begin{axis}[panel, at={(0pt,0pt)},
  xtick={-200,-100,0,100,200}, xticklabels={−200,−100,0,100,200},
  ytick={0,100,200,300}, yticklabels={0,100,200,300}]
\addplot[dots=mplorange] table[x=x, y=y] {\orangepts};
\addplot[scatter, only marks, mark=*, point meta=x,
  visualization depends on={\thisrow{r} \as \rad},
  scatter/@pre marker code/.append style={/tikz/mark size=\rad pt}]
  table[x=x, y=y] {\bubbles};
\addplot[black, line width=2.5pt] coordinates {(0,0)(0,313)};
\addplot[rule=black] coordinates {(0,304)(0,299.2)(0,247.3)(0,232.6)(0,230.9)(0,229.3)(0,222.4)(0,217.1)(0,71.1)(0,23)(0,21.9)(0,20.9)(0,15.9)(0,10)};
\addplot[rule=red] coordinates {(0,274.4)(0,264.6)(0,262.9)(0,257.9)(0,199.6)(0,198.4)(0,196.8)(0,189.8)(0,187.8)(0,178.2)(0,161.8)(0,160.6)(0,159.5)(0,148.1)(0,145.1)(0,142.1)(0,138.7)(0,129.5)(0,125.3)(0,121.2)(0,116.6)(0,97.6)(0,88.7)(0,87.9)(0,86.9)(0,78)(0,59.5)(0,42.1)(0,39.6)(0,34.1)};
\end{axis}

% upper panel, its lowest tick label sits above the axis floor
\begin{axis}[panel, at={(0pt,411.75pt)}, xtick=\empty,
  ytick={19.3,100,200,300}, yticklabels={0,100,200,300}]
\addplot[dots=blue] coordinates {
(-132,279.7)(-163,261.3)(-131.2,263.9)(-127,259.5)(-128.6,254.7)(-181.2,251.7)(-167.4,248.4)(-135.6,254.2)(-139,250.4)(-136.6,245.9)(-149.1,250.7)(-151.1,247.5)(-152.2,242.9)(-143.7,244)(-140.8,238.1)(-185.5,241.2)(-184.2,238.5)(-190.2,239.7)(-190.2,237)(-148,233)(-167.4,235.9)(-169.3,233.7)(-159.6,230.9)(-159.6,229.6)(-134.3,231.1)(-173.4,227.7)(-185,226.5)(-217.6,222.3)(-215.8,219.2)(-206.4,227.4)(-198.7,221.3)(-174.7,216.6)(-159.5,217.5)(-138.6,220.7)(-202.8,212.2)(-197.4,206.9)(-163,210.3)(-151.8,207.8)(-148.5,207.8)(-132.3,206.5)(-216.8,199.2)(-216.8,196.5)(-233.4,188.6)(-234.3,187.6)(-152.1,195.2)(-134,194.3)(-134,190.8)(-166.4,191.8)(-164.9,187.3)(-151.1,187.9)(-143,182)(-196.6,185.4)(-200.3,182)(-202.8,176.3)(-186.2,177.5)(-144.8,178.4)(-151.8,173.4)(-162.6,175.4)(-127,188.9)(-144.8,162.2)(-129.8,161.4)(-191.6,168.7)
(-149.5,151.8)(-143.7,156.7)(-132.3,139.6)(-147.8,136.4)(-146.4,134.5)(-159.9,136.7)(-129.6,131.7)(-127.8,129)(-131.6,126.7)(-131.6,123.2)(-143,118.1)(-127.6,117.1)(-127.6,102.4)
(-43.6,308)(-41,308)(-37.6,303.6)(-44.7,302.1)(-43,299.2)(-27.5,297.3)(-24.8,295.5)(7.8,304.7)(14.3,305.8)(36.9,304)(39.9,297.1)(40.6,294.4)(54.3,291.7)(14.3,292.9)(17,292.9)(15,288.5)(18.6,287)(-106.3,290.7)(-82,290.8)(-80.3,288.8)(-74.6,292.9)(-76,286.2)(-70.3,284.4)(-60.2,284.1)(-56,292)(-30.2,291.3)(-25.5,285.4)(-11,284.1)(-6.9,281.3)(-0.3,285)(-117.1,283.9)(-117.8,280.6)(-112.4,280.3)(-130.6,279.6)(-46.6,275.7)(-69.3,276.9)(-65.5,274.4)(-112.4,273.1)(-108.3,270.9)(-111.7,270)(-49,272.1)(-50,269)(-44,270.2)(-42.3,266.8)(-45.7,264.6)(-44.3,264.2)(-63.6,267)(-25.5,279)(-22.1,279)(-24.1,275.9)(-21.4,274.6)(-18,275.9)(-18,270.9)(0.6,271.5)(7.5,267.7)(-23.4,265.2)(2.8,265.8)(7.5,261)(30.5,265.2)(29.1,263.3)(45.6,267.5)(36.2,279)(54.3,281.2)(51.4,277.5)(63.6,265.8)(76.3,263.9)(66.2,264.3)
(-129.6,263.9)(-124.5,260.1)(-122.5,259.1)(-125.2,257.6)(-127.2,254.7)(-112.7,256)(-117.8,253.5)(-114.4,251.7)(-119.8,250.3)(-118.4,246.9)(-109.7,249.8)(-94.9,263.5)(-101.9,259.3)(-77.1,259.3)(-80.7,256.7)(-76.7,256.4)(-74,251.7)(-78.3,247.9)(-65.2,247.1)(-60.5,246.3)(-44.3,245.6)(-41.9,255.1)(-41.4,253)(-37.2,253)(-30.8,259.5)(-31.5,258)(-3.5,255.7)(7.8,251)(28.4,254.7)(25.8,252)(39.2,260.1)(42.9,260.5)(41.3,253.8)(43.3,251.7)(49.1,257.6)(55.1,247.9)(45.7,241.9)(54.7,240.2)(50.7,233)(64.2,251.7)(71.8,258.3)(68.9,255.1)(63.5,247.5)(77.2,255.7)(74.7,239)(69.5,235)(19,245.6)(15,244.4)(-67.9,243.7)(-54.4,239.7)(-86.1,246)(-92.8,243.8)(-100.2,241.9)(-84.4,241)(-104.6,239)(-84.8,236.4)(-101.6,231.4)(-121.5,233)(-131.9,230.5)(-105.6,226.7)(-107.3,223.3)(-31.8,220.1)(-31.5,217.9)(-28.2,223.6)(-56,217.6)(-64.5,213.2)(-47.4,214.1)(-32.2,212.9)(-26.8,211.3)(-11.7,209.7)(8.5,208.7)(46.6,222.3)(54,221.7)(66.2,223)(65.5,220.4)(46,212.9)(50,208.7)(-90,210.6)(-94.2,205.3)(-108.3,204.7)
(-39.6,204.7)(-41,200.9)(-39.3,198.4)(-35.6,195.2)(-34.9,191.4)(-19.1,200.6)(-17.8,193.6)(-14,190.2)(-11.6,188.3)(-51.3,200)(-59.1,202.5)(-61.2,197.1)(-56.5,195.8)(-94.5,196.2)(-119.8,198.4)(-117.5,194.6)(-121.1,189.9)(-123.8,188.3)(-131.9,190.8)(-82.7,192.7)(-82.7,189.5)(-82.3,186.7)(-81.4,183.2)(-75,183.5)(-65.9,194)(-63.9,189.5)(-67.2,188.3)(-63.9,184.2)(-67.9,184.5)(-68.6,178.8)(-97.6,190.2)(-112,181)(-116.4,180)(-121.5,179.4)(-94.1,179.2)(-89.7,173.4)(-42.3,185.1)(-32.9,182.8)(-27.5,178.5)(-22.1,179.4)(13,189.5)(4.2,183.5)(17.9,178.8)(32.9,173.1)(21.3,196.5)(16.7,194.2)(24.7,203)(30,199.6)(32.1,205.3)(36.9,198.4)(29.7,190.2)(49.6,194.8)(58.2,194.8)(64.2,193.7)(67.1,193.7)(47,176)(45.3,171.2)(48,170.9)(49.4,165.6)(55.7,175)(62.8,170)(62.1,166.8)(61,164.3)(70.2,176.3)(57.4,180.7)(64.8,182.6)(26.2,164.7)(-49.4,170)(-29.2,165.6)(-39.6,164.3)(-45,163)(77,164.3)
(-45,163.1)(-39.6,163.8)(-39,160.6)(-42.3,159.4)(-46.6,159)(-32.6,155.3)(-32.1,146.8)(-128.6,160.8)(-116.4,158.4)(-102.3,160)(-86.8,159.6)(-121.1,163.1)(-106.6,153.7)(-94.2,153.3)(-76.7,149.9)(-81.4,146.8)(-69.3,146.1)(-88.1,142.3)(-86.1,139.8)(-119.8,141.7)(-114.8,138.6)(-130.7,139.6)(-92.8,135.2)(-60.2,137.9)(-128.6,131.6)(-126.1,128.9)(-99.6,131)(-111.3,128.7)(-118,125)(-130.2,127)(-130.4,123.2)(-111.7,123.4)(-101.9,126)(-98.9,122.2)(-95.4,120.3)(-79.2,133.5)(-79.2,129.5)(-80.3,124.4)(-80.7,122.2)(-82.7,118.1)(-65.2,130)(-61.8,127.7)(-58,124)(-47.4,125.7)(-51.7,120.5)(-51.1,116.5)(-43.4,117.5)(-41.2,116.1)(-39.9,121.5)(-48,135.7)(-45,133.3)(-41,135.7)(-34.9,134.4)(-36.2,114)(-34.9,111.8)(-46.3,110.8)(-49.7,110.2)(-50.1,107.9)(-66.6,107.9)(-75.7,107.3)(-124.5,116.9)(-121.4,111.8)(-125.2,102.6)(-106.7,103.3)(-95.5,104.5)(-93.9,103.6)(-106.6,97.8)(-99.9,95.7)(-109,94)(-101.9,87.5)(-95.5,90.6)(-93.5,88.1)(-57.4,102.4)(-55.4,100.1)(-50.4,102.6)(-69.3,98.2)(-62.5,94)(-51.7,92.5)(-49.3,88.1)(-39.3,94.2)(-36.6,92.9)(-30.8,95.7)(-30.6,90.3)(-26.1,90.6)(-24.8,90)(-24.1,86.6)(-17.4,88.5)(-14.7,86.2)(-15.1,80.8)(-26.8,81.2)(-30.6,83)(-18.7,104.1)(-27.1,105.3)(-26.4,115.2)(-21.4,119.9)(-20.7,122.8)(-15.3,108.5)(-5.2,118.6)(5.1,126)(-1.2,129.5)(12.3,121.8)(-7.9,99.8)(-5.9,97.2)(8.2,102.6)(24.8,95.3)(27.8,100.7)(31.1,104.5)(4.5,87.9)(15.4,83.3)(19.7,84.7)(22.4,82.4)(17,78)(25.4,76.8)(55.1,91.7)(63.5,81.2)(64.8,78.4)(60.8,76.1)(69.3,83.5)(70.9,80.8)(76.3,77.4)(58.1,70.8)(2.2,75.5)(1.9,73.6)(-7,73.9)(-12.7,70.2)(-2.5,69.2)(-35.6,72)(-30.6,69.2)(-20.5,68.6)(-48.4,64.8)(-41.6,62.9)(-57.8,64.4)(-74.6,58.2)(-67,57.2)(-60.2,57.9)(-55.5,57.2)(-41,54.4)(6,54.7)(14.7,56.6)(15.9,53)(-2.1,53)(-12,53.7)(-8.9,52.4)(-14.7,49.6)(-5.9,48.4)(-19.1,47.4)(24.4,52.2)(23.1,50.3)(25.1,48.4)(11.9,45.5)(-60.2,46.8)(-50,45.9)(-16.4,43.6)(-10.9,41.5)(-16,39.2)(-10.2,38.3)(-10.2,35.2)(0.8,42.1)(49.3,52.8)(46.6,49)(49.3,49.6)(61.5,48.4)(64.2,42.3)(72,39.3)(32.1,38.9)(37.9,38.6)(-43.6,32.2)(-5.2,30.4)(-2.9,27.2)(23.7,28.8)(21.3,22.5)(28.2,21)(-2.5,18.8)(-11.3,14)
(30,150.9)(50.3,149.7)(39.5,147.1)(44.4,146.5)(37.6,143.6)(18,142.7)(16.3,139.6)(23.1,134.8)(31.1,136.4)(55.4,136.7)(62.8,137.9)(62.1,135.7)(70.2,132.9)(68.2,130.4)(76,133.3)(75,130.7)(58.8,123.2)(44.6,119.6)(28.7,115.2)(16.3,115.5)(19.7,116.5)(48,114.6)(53.7,113.1)(59.9,113.6)(56.1,105.5)(61.5,107.7)(61.1,105.5)(76,101.1)(68.9,115.6)(71.2,111.8)(65.8,154.7)(68.9,152.4)(74.7,143.4)(54.5,156)(58.1,155.6)(61.5,162.5)(37.5,126)(26.4,164.4)(49.3,165)
(110.4,281.8)(117.6,276.5)(127.1,274)(125.7,268)(113.2,263.9)(121.5,262)(78.5,263.9)(84.7,264.9)(89.3,267.1)(93.7,263.9)(100.7,259.5)(106,257.9)(107.9,254.7)(79.2,256)(91.6,254.5)(91,251.3)(81.9,249.8)(85.4,249.4)(112.2,250)(116.2,250)(116.6,246)(119.8,243.1)(91.2,246)(91.6,242.5)(76.4,238.7)(91.6,238.1)(96.8,238.1)(100.7,237.7)(104.8,238.7)(108.6,239.7)(109.7,235.2)(119.4,236.8)(87.5,229.9)(91,226.1)(86.8,223.2)(106.2,230.3)(100,229.3)(113.2,224)(118.7,219.5)(121.5,221.7)(126.4,224.2)(129.1,227.4)(136.1,225.8)(139.6,239.6)(143,237.4)(131.2,245)(159,256)(161.8,257)(157.6,251.3)(151.4,238.1)(145.8,231.8)(144.4,212.2)(155.5,225.5)(109.7,209)(117.3,206.5)(126,206.5)(120.8,203.4)(123.6,201.1)(118,201.1)(108.7,201.5)(105.5,198.6)(152.1,201.1)(122.2,197.1)(112,192.4)(119.8,192.4)(131.2,192.7)(133.3,193.9)(136.8,196.1)(140.5,192.1)(163.2,191.4)(166.2,189.3)(171.1,192.7)(170.8,190.4)(175,193.9)(191.6,194.3)(194.8,192.9)(159.7,186.6)(150.4,186.4)(151.8,185.1)(164.6,184.5)(164.6,182)(179.4,187.6)(179.4,185.1)(183.6,180.7)(139.6,182.3)(144.8,183.2)(157.6,175.4)(206.6,186.6)(201.4,183.2)(199.3,181)(204.9,175)(209.7,176.3)(211.1,181)(216,170.4)(217.3,170)(217.8,165.6)(227.1,164.3)(227.8,166.2)(235.7,167.2)(238.2,167.2)(240.7,164.3)(230.5,159.9)(241.6,179.4)(250,180.4)(246.8,172.9)(247.9,173.8)(223.6,213.7)(216.6,208.2)(218,204.7)(223.6,198.6)(224.3,196.8)(225.7,185.1)(197.6,230.3)(193.4,225.5)(195.8,220.8)(197.2,215.4)(192.3,213.7)(188.9,212)(182.6,219.8)(190.3,223.6)(174.3,174.6)(167.8,172.9)(170.8,170.6)(179.8,172.1)(184,169.4)(195.1,168.3)(109,174.6)(118,173.8)(122.9,172.9)(129.1,169.6)(131.2,169.1)(138.9,169.3)(120.1,164.3)(119.4,162.4)(105.5,167.7)(105.1,164.9)(79.6,164.9)(81.9,164.9)(129.4,161.1)(175.3,159.9)(72.9,176.3)
(81.2,156.5)(104.7,157.9)(111.1,156)(113.6,153.7)(100.4,155)(118.3,151.4)(128.5,155.3)(131.9,155.3)(129.1,160.4)(147.9,156)(143.7,151.8)(145.8,148)(175.3,158.7)(206.9,155)(209,148.6)(210.4,147.4)(210.4,143.9)(209.4,135.4)(229.1,158.1)(231,159.4)(234,155)(238.2,156.5)(172.9,145.5)(173.9,146.8)(176.6,141.7)(94.4,148.6)(91.6,148.6)(100.3,147.1)(102.1,142.6)(110.1,148)(111.8,148)(121.5,145.9)(121.5,142.3)(76.4,143.2)(89.8,141.7)(88.2,138.3)(141.6,140.8)(147.2,142.6)(153.5,135.4)(156.9,131.2)(161.1,129.7)(163.2,127.2)(163.5,122.5)(191.6,129.5)(195.1,127.2)(198.9,127.6)(166.6,116.5)(159,114.2)(159.3,111.2)(155.5,109.3)(153.5,105.5)(150.4,104.3)(136.8,106.8)(141.6,102.6)(128.9,97.8)(115.3,97.8)(96.5,97)(77.8,101.1)(106.2,112.1)(108.7,108.5)(95.5,118.6)(107.6,118.6)(108.3,124.4)(118,120.9)(103.2,132.6)(103.7,129.7)(106.6,130.6)(112.5,129.7)(77.8,133.5)(76.4,130.6)(86.5,81.6)(78,77.4)(86.1,75.5)(91.2,75)(96.1,73.2)(100.3,73.6)(104.8,73.6)(98.9,66.7)(100.3,64.5)(86.1,61.4)(89.8,50.3)(89.6,48.4)(94,50.3)(97.9,49.3)(96.9,47.1)(73.6,80.8)(73.6,39)
};
\addplot[dots=mplorange] table[x=x, y=y] {\orangepts};
\addplot[black, line width=2.5pt] coordinates {(0,0)(0,313)};
\addplot[rule=black] coordinates {(0,303.4)(0,299.2)(0,247.3)(0,232.6)(0,230.9)(0,229.3)(0,222.4)(0,217.1)(0,71.1)(0,23)(0,21.9)(0,20.9)(0,15.9)(0,10)};
\addplot[rule=red] coordinates {(0,274.4)(0,264.6)(0,262.9)(0,257.9)(0,199.6)(0,198.4)(0,196.8)(0,189.8)(0,187.8)(0,178.2)(0,161.8)(0,160.6)(0,159.5)(0,148.1)(0,145.1)(0,142.1)(0,138.7)(0,129.5)(0,125.3)(0,121.2)(0,116.6)(0,97.6)(0,88.7)(0,87.9)(0,86.9)(0,78)(0,59.5)(0,42.1)(0,39.6)(0,34.1)};
\end{axis}
\end{tikzpicture}
\end{document}
